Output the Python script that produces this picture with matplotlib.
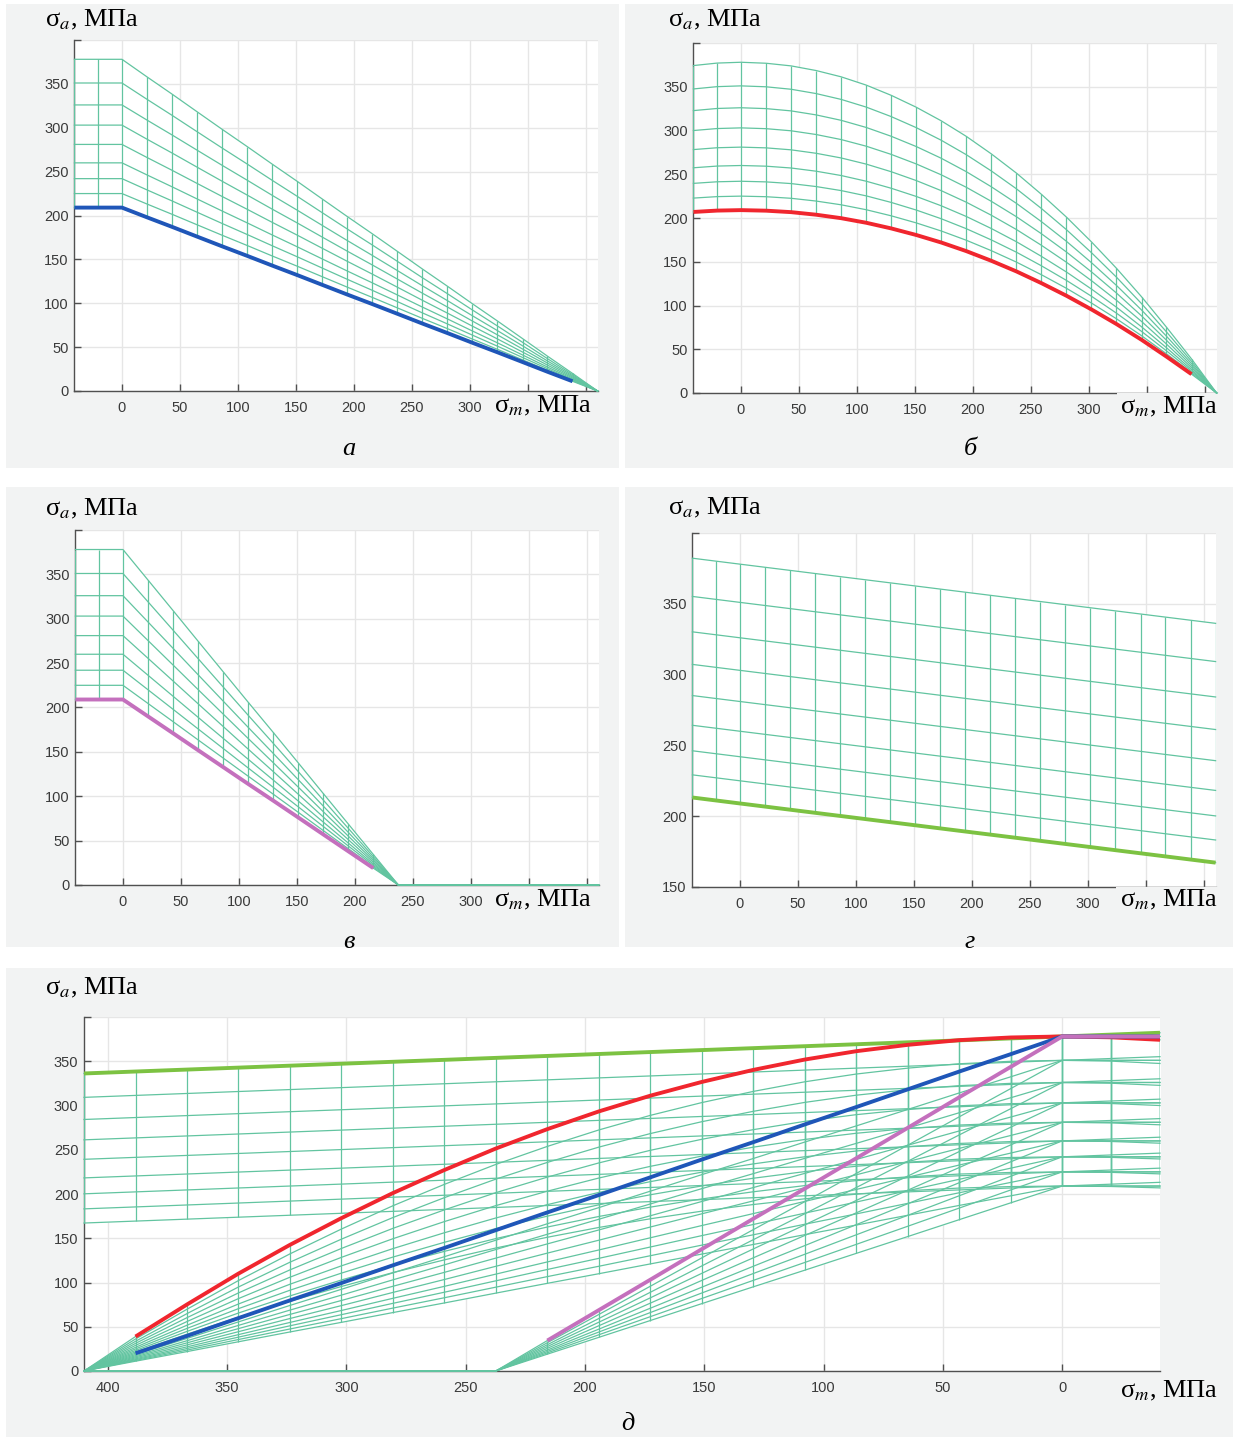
"""Fatigue limit diagrams: five panels of sigma_a vs sigma_m meshes."""

import matplotlib
matplotlib.use("Agg")
import matplotlib.pyplot as plt
import matplotlib.patches as mpatches
import numpy as np

W, H = 1234, 1439

# Mean stress nodes of the mesh, MPa.
SIGMA_M = [-41, -20.5, 0, 21.6, 43.2, 64.7, 86.3, 107.9, 129.5, 151.1, 172.6,
           194.2, 215.8, 237.4, 258.9, 280.5, 302.1, 323.7, 345.3, 366.8,
           388.4, 410]
# Amplitude levels at sigma_m = 0, MPa (one mesh line each).
S_LEVELS = [209, 225, 242, 260, 281, 303, 326, 351, 378]

# Reduction factor of the amplitude at each node, panels а, б, в.
FACTOR_A = [1, 1, 1, 0.947, 0.895, 0.842, 0.789, 0.737, 0.684, 0.632, 0.579,
            0.526, 0.474, 0.421, 0.368, 0.316, 0.263, 0.211, 0.158, 0.105,
            0.053, 0]
FACTOR_B = [0.990, 0.9975, 1, 0.997, 0.989, 0.975, 0.956, 0.931, 0.900, 0.864,
            0.823, 0.776, 0.723, 0.665, 0.601, 0.532, 0.457, 0.377, 0.291,
            0.199, 0.103, 0]
FACTOR_V = [1, 1, 1, 0.909, 0.818, 0.727, 0.636, 0.545, 0.455, 0.364, 0.273,
            0.182, 0.091, 0, 0, 0, 0, 0, 0, 0, 0, 0]
# Amplitude drop at each node for panel г, MPa.
SHIFT_G = [-4.2, -2.1, 0, 2.2, 4.4, 6.6, 8.8, 11.0, 13.2, 15.4, 17.6, 19.8,
           22.0, 24.2, 26.4, 28.6, 30.8, 33.0, 35.2, 37.4, 39.6, 41.8]

X_TICKS = [0, 50, 100, 150, 200, 250, 300, 350, 400]
X_LABELS = ["0", "50", "100", "150", "200", "250", "300", "", ""]
Y_TICKS = [0, 50, 100, 150, 200, 250, 300, 350, 400]
Y_LABELS = ["0", "50", "100", "150", "200", "250", "300", "350", ""]
Y_TICKS_G = [150, 200, 250, 300, 350, 400]
Y_LABELS_G = ["150", "200", "250", "300", "350", ""]

MESH = "#62c4a0"
BLUE = "#1f56b8"
RED = "#f0262e"
PINK = "#c470bd"
GREEN = "#7cc242"
PANEL_BG = "#f2f3f3"
SERIF = ["Liberation Serif", "DejaVu Serif"]

plt.rcParams["font.family"] = ["Liberation Sans", "DejaVu Sans"]
plt.rcParams["mathtext.fontset"] = "stix"


def rect(x0, y0, x1, y1):
    """Pixel box (top-left origin) to figure fraction [l, b, w, h]."""
    return [x0 / W, 1 - y1 / H, (x1 - x0) / W, (y1 - y0) / H]


def style(ax, xlim, ylim, yticks, ylabels, xlabels):
    ax.set_xlim(*xlim)
    ax.set_ylim(*ylim)
    ax.set_xticks(X_TICKS)
    ax.set_xticklabels(xlabels)
    ax.set_yticks(yticks)
    ax.set_yticklabels(ylabels)
    ax.grid(True, color="#e6e6e6", lw=1.0)
    ax.set_axisbelow(True)
    for side in ("top", "right"):
        ax.spines[side].set_visible(False)
    for side in ("left", "bottom"):
        ax.spines[side].set_color("#505050")
        ax.spines[side].set_linewidth(1.0)
    ax.tick_params(direction="in", length=5, width=1, color="#505050",
                   labelsize=10.5, labelcolor="#3a3a3a")
    ax.tick_params(axis="x", pad=7)
    ax.tick_params(axis="y", pad=4)


def faces(ax, z):
    x = np.array(SIGMA_M)
    ax.fill_between(x, z.min(axis=0), z.max(axis=0), color="white", lw=0,
                    zorder=1)


def edges(ax, z):
    x = np.array(SIGMA_M)
    for row in z:
        ax.plot(x, row, color=MESH, lw=0.9, zorder=3, clip_on=False)
    ax.vlines(x, z.min(axis=0), z.max(axis=0), colors=MESH, lw=0.9, zorder=3)


def limit(ax, row, color):
    x = np.array(SIGMA_M)
    keep = row > 0
    ax.plot(x[keep], row[keep], color=color, lw=2.8, zorder=4,
            solid_capstyle="butt", clip_on=False)


def label_gap(ax):
    """Grey patch under the sigma_m label that interrupts the axis line."""
    ax.add_patch(mpatches.Rectangle((0.81, -0.08), 0.22, 0.081,
                                    transform=ax.transAxes,
                                    facecolor=PANEL_BG, edgecolor="none",
                                    zorder=2.6, clip_on=False))


def ftext(x, y, s, **kw):
    fig.text(x / W, 1 - y / H, s, family=SERIF, **kw)


s = np.array(S_LEVELS, dtype=float)
z_a = np.outer(s, FACTOR_A)
z_b = np.outer(s, FACTOR_B)
z_v = np.outer(s, FACTOR_V)
z_g = s[:, None] - np.array(SHIFT_G)[None, :]

fig = plt.figure(figsize=(W / 100, H / 100), dpi=100)

# Grey panel backgrounds.
for x0, y0, x1, y1 in [(6, 4, 619, 468), (625, 4, 1233, 468),
                       (6, 487, 619, 947), (625, 487, 1233, 947),
                       (6, 968, 1233, 1437)]:
    fig.patches.append(mpatches.Rectangle(
        (x0 / W, 1 - y1 / H), (x1 - x0) / W, (y1 - y0) / H,
        transform=fig.transFigure, facecolor=PANEL_BG, edgecolor="none",
        zorder=-1))

panels = [
    (rect(74.4, 40, 597.6, 391), z_a, BLUE, (0, 400), Y_TICKS, Y_LABELS,
     False),
    (rect(693.4, 43, 1216.6, 393), z_b, RED, (0, 400), Y_TICKS, Y_LABELS,
     True),
    (rect(75.4, 530, 598.6, 885), z_v, PINK, (0, 400), Y_TICKS, Y_LABELS,
     False),
    (rect(692.4, 533, 1215.6, 887), z_g, GREEN, (150, 400), Y_TICKS_G,
     Y_LABELS_G, True),
]
for box, z, color, ylim, yt, yl, gap in panels:
    ax = fig.add_axes(box)
    style(ax, (-41, 410), ylim, yt, yl, X_LABELS)
    faces(ax, z)
    edges(ax, z)
    limit(ax, z[0], color)
    if gap:
        label_gap(ax)

# Panel д: all four meshes together, mean stress axis reversed.
ax = fig.add_axes(rect(84, 1017, 1160, 1371))
style(ax, (410, -41), (0, 400), Y_TICKS, Y_LABELS,
      [str(t) for t in X_TICKS])
for z in (z_a, z_b, z_v, z_g):
    faces(ax, z)
for z in (z_a, z_b, z_v, z_g):
    edges(ax, z)
for z, color in ((z_g, GREEN), (z_b, RED), (z_a, BLUE), (z_v, PINK)):
    limit(ax, z[-1], color)

# Axis titles.
for x, y in [(45, 20), (668, 20), (45, 509), (668, 508), (45, 988)]:
    ftext(x, y, "σ$_a$, МПа", fontsize=19, ha="left", va="center", zorder=5)
for x, y in [(592, 406), (1218, 407), (592, 900), (1218, 900), (1218, 1391)]:
    ftext(x, y, "σ$_m$, МПа", fontsize=19, ha="right", va="center", zorder=5)

# Panel letters.
for x, y, letter in [(349, 449, "а"), (970, 449, "б"), (349, 942, "в"),
                     (970, 942, "г"), (628, 1424, "д")]:
    ftext(x, y, letter, fontsize=19, style="italic", ha="center",
          va="center", zorder=5)

# White gap between the rows cuts the lower letters of the middle row.
fig.patches.append(mpatches.Rectangle(
    (0, 1 - 968 / H), 1, (968 - 948) / H, transform=fig.transFigure,
    facecolor="white", edgecolor="none", zorder=8))

fig.savefig("out.png", dpi=100)
